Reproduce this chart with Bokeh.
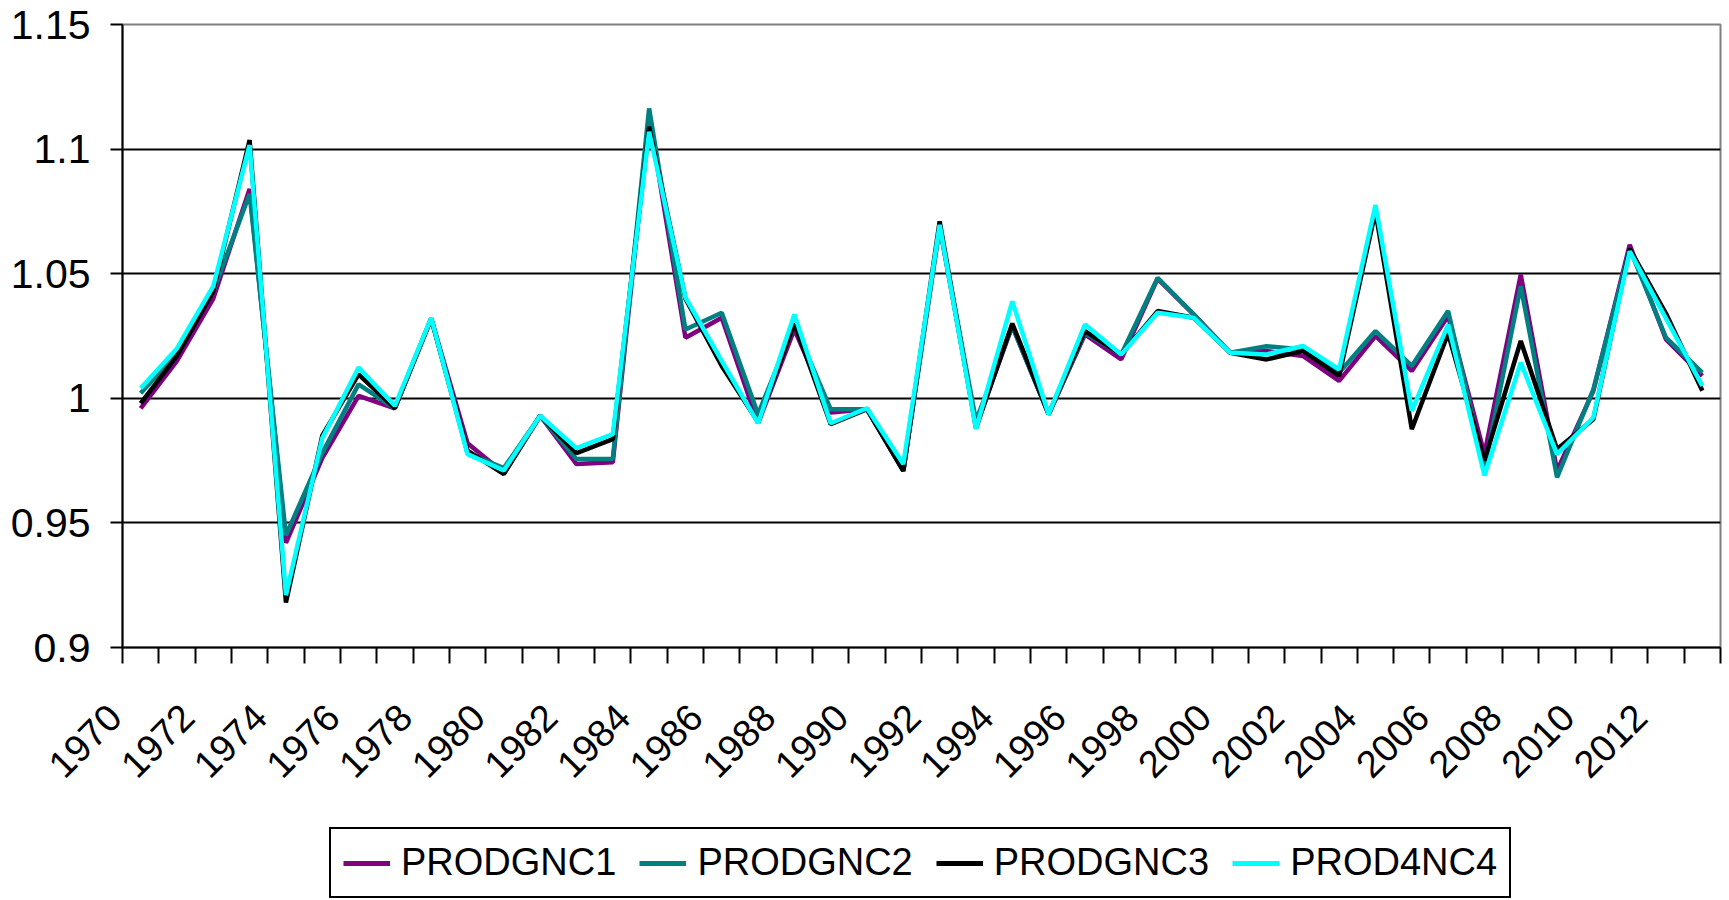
import math
from bokeh.plotting import figure
from bokeh.layouts import column
from bokeh.models import (FixedTicker, CustomJSTickFormatter, Legend, LegendItem,
                          Range1d, LinearAxis)
from bokeh.embed import file_html
from bokeh.resources import INLINE

years = list(range(1970, 2014))

prodgnc1 = [0.996, 1.015, 1.040, 1.084, 0.942, 0.976, 1.001, 0.996, 1.032, 0.982,
            0.970, 0.993, 0.9736, 0.9743, 1.113, 1.0243, 1.0323, 0.990, 1.0276, 0.9943,
            0.9956, 0.9709, 1.069, 0.989, 1.029, 0.9936, 1.0256, 1.0156, 1.048, 1.0336,
            1.0183, 1.019, 1.017, 1.007, 1.025, 1.011, 1.033, 0.9776, 1.0496, 0.971,
            1.003, 1.0616, 1.0236, 1.009]

prodgnc2 = [1.002, 1.018, 1.043, 1.082, 0.945, 0.978, 1.0056, 0.996, 1.032, 0.978,
            0.972, 0.993, 0.9756, 0.9756, 1.1163, 1.0276, 1.0343, 0.9936, 1.0296, 0.9956,
            0.9956, 0.9709, 1.069, 0.991, 1.0289, 0.9936, 1.0263, 1.0176, 1.0483, 1.0336,
            1.0183, 1.0209, 1.0196, 1.0103, 1.027, 1.013, 1.035, 0.972, 1.045, 0.9683,
            1.0036, 1.060, 1.0243, 1.0103]

prodgnc3 = [0.998, 1.017, 1.043, 1.1036, 0.918, 0.985, 1.0096, 0.996, 1.032, 0.979,
            0.9696, 0.993, 0.978, 0.9836, 1.109, 1.040, 1.013, 0.9905, 1.030, 0.9896,
            0.9956, 0.9709, 1.071, 0.988, 1.030, 0.9936, 1.027, 1.0176, 1.035, 1.0323,
            1.0183, 1.0156, 1.019, 1.009, 1.075, 0.9876, 1.026, 0.975, 1.023, 0.9796,
            0.9916, 1.060, 1.034, 1.003]

prod4nc4 = [1.004, 1.020, 1.045, 1.1016, 0.921, 0.984, 1.0123, 0.997, 1.0323, 0.9776,
            0.971, 0.993, 0.980, 0.9856, 1.107, 1.0405, 1.015, 0.990, 1.0336, 0.990,
            0.996, 0.9736, 1.0696, 0.9876, 1.0389, 0.9936, 1.0296, 1.0176, 1.0343, 1.0323,
            1.0183, 1.0176, 1.021, 1.0116, 1.0776, 0.995, 1.0296, 0.969, 1.0143, 0.9776,
            0.9923, 1.059, 1.032, 1.005]

series_names = ["PRODGNC1", "PRODGNC2", "PRODGNC3", "PROD4NC4"]
series_values = [prodgnc1, prodgnc2, prodgnc3, prod4nc4]
series_colors = ["#800080", "#008080", "#000000", "#00FFFF"]

y_ticks = [0.9, 0.95, 1.0, 1.05, 1.1, 1.15]
x_label_years = years[::2]

FONT = "Liberation Sans"
LABEL_SHIFT = 0.5  # rotated year labels end slightly left of their category

W = 1729
H_MAIN = 825
H_LEG = 75

p = figure(width=W, height=H_MAIN,
           x_range=Range1d(years[0] - 0.5, years[-1] + 0.5),
           y_range=Range1d(y_ticks[0], y_ticks[-1]),
           output_backend="svg", toolbar_location=None,
           min_border_left=122, min_border_right=9,
           min_border_top=24, min_border_bottom=H_MAIN - 647)

p.background_fill_color = "white"
p.border_fill_color = "white"
p.outline_line_color = "#808080"
p.outline_line_width = 2

# grid
p.xgrid.visible = False
p.ygrid.ticker = FixedTicker(ticks=y_ticks[1:-1])
p.ygrid.grid_line_color = "black"
p.ygrid.grid_line_width = 2

# y axis
p.yaxis.ticker = FixedTicker(ticks=y_ticks)
p.yaxis.formatter = CustomJSTickFormatter(code="return (Math.round(tick*100)/100).toString();")
p.yaxis.axis_line_color = "black"
p.yaxis.axis_line_width = 2
p.yaxis.major_tick_line_color = "black"
p.yaxis.major_tick_line_width = 2
p.yaxis.major_tick_out = 12
p.yaxis.major_tick_in = 0
p.yaxis.minor_tick_line_color = None
p.yaxis.major_label_standoff = 20
p.yaxis.major_label_text_font = FONT
p.yaxis.major_label_text_font_size = "41px"
p.yaxis.major_label_text_color = "black"

# x axis line with tick marks between the yearly categories (no labels)
boundaries = [y - 0.5 for y in years] + [years[-1] + 0.5]
p.xaxis.ticker = FixedTicker(ticks=boundaries)
p.xaxis.formatter = CustomJSTickFormatter(code="return '';")
p.xaxis.axis_line_color = "black"
p.xaxis.axis_line_width = 2
p.xaxis.major_tick_out = 16
p.xaxis.major_tick_in = 0
p.xaxis.major_tick_line_color = "black"
p.xaxis.major_tick_line_width = 2
p.xaxis.minor_tick_line_color = None
p.xaxis.major_label_standoff = 0
p.xaxis.major_label_text_font_size = "1px"

# second axis carrying only the rotated year labels (every other year);
# a trailing no-break space keeps each label's end a little left of its anchor
label_pos = [y - LABEL_SHIFT for y in x_label_years]
label_axis = LinearAxis(
    ticker=FixedTicker(ticks=label_pos),
    formatter=CustomJSTickFormatter(args=dict(shift=LABEL_SHIFT),
                                    code="return Math.round(tick + shift).toString() + '\\u00a0';"),
    axis_line_color=None, major_tick_line_color=None, minor_tick_line_color=None,
    major_tick_out=0, major_tick_in=0, minor_tick_out=0, minor_tick_in=0,
    major_label_orientation=math.pi / 4, major_label_standoff=40,
    major_label_text_font=FONT, major_label_text_font_size="38px",
    major_label_text_color="black")
p.add_layout(label_axis, "below")

for vals, col in zip(series_values, series_colors):
    p.line(years, vals, line_color=col, line_width=4.5)

# legend strip below the chart (its lines sit outside the strip's visible range)
pl = figure(width=W, height=H_LEG, x_range=Range1d(0, 1), y_range=Range1d(0, 1),
            x_axis_type=None, y_axis_type=None,
            output_backend="svg", toolbar_location=None,
            min_border_left=0, min_border_right=0, min_border_top=0, min_border_bottom=0)
pl.outline_line_color = None
pl.background_fill_color = "white"
pl.border_fill_color = "white"
pl.xgrid.visible = False
pl.ygrid.visible = False

items = []
for name, vals, col in zip(series_names, series_values, series_colors):
    r = pl.line(years, vals, line_color=col, line_width=5)
    items.append(LegendItem(label=name, renderers=[r]))

legend = Legend(items=items, orientation="horizontal", location=(207, 2),
                margin=0, padding=12, spacing=23, glyph_width=47, glyph_height=30,
                label_standoff=11, label_text_font=FONT, label_text_font_size="38px",
                label_text_color="black", border_line_color="black",
                border_line_alpha=1.0, border_line_width=2,
                background_fill_color="white", background_fill_alpha=1.0)
pl.add_layout(legend, "center")

layout = column(p, pl, spacing=0)
open("out.html", "w").write(file_html(layout, INLINE))
